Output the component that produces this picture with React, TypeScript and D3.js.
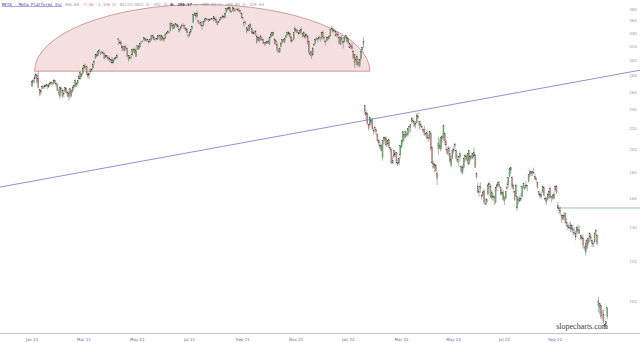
import React from 'react';
import * as d3 from 'd3';

const W = 640;
const H = 343;

// Daily candles [open, high, low, close], one small array per month
const jan2021 = [[267,275,266,273],[272,276,270,274],[276,281,271,278],[279,284,276,282],[280,283,270,272],[277,286,264,265],[263,264,255,258]];
const feb2021 = [[259,263,256,262],[264,269,263,267],[267,268,264,267],[268,269,264,266],[267,270,266,268],[269,269,263,267],[266,271,265,268],[269,273,267,271],[272,273,268,270],[270,272,268,271],[270,276,269,274],[272,275,270,274],[271,272,266,269],[269,270,261,262],[259,264,256,260],[255,267,252,266],[264,266,259,264],[262,264,253,255],[258,263,254,258]];
const mar2021 = [[261,266,259,265],[264,266,258,259],[259,261,254,255],[255,262,250,258],[258,265,252,264],[262,263,255,255],[261,268,259,266],[268,269,263,265],[267,276,266,274],[270,272,266,268],[270,275,268,274],[276,282,275,279],[276,286,275,284],[282,284,278,279],[283,292,282,290],[290,296,289,294],[292,296,288,291],[292,293,281,282],[282,285,277,279],[281,284,276,283],[285,290,283,288],[288,290,285,288],[290,298,289,295]];
const apr2021 = [[298,301,295,299],[303,310,302,309],[308,311,306,306],[307,314,306,313],[315,316,311,313],[312,313,308,312],[311,314,309,312],[311,313,308,310],[310,311,302,303],[305,308,304,308],[307,307,303,306],[305,307,300,302],[302,306,298,303],[301,302,297,302],[301,305,295,297],[297,303,296,301],[302,305,300,303],[304,306,302,303],[304,310,303,307],[332,332,322,330],[326,330,324,325]];
const may2021 = [[326,329,322,323],[321,322,313,318],[320,321,314,315],[314,321,313,320],[319,323,318,319],[317,318,306,306],[302,308,299,307],[304,308,302,303],[305,308,302,305],[308,317,307,316],[314,317,311,316],[316,319,310,310],[306,314,305,314],[316,322,315,322],[321,322,316,316],[319,326,319,325],[327,328,324,328],[328,330,326,328],[331,334,329,333],[332,333,328,329]];
const jun2021 = [[330,332,327,329],[330,331,327,329],[328,329,324,326],[327,332,326,330],[330,337,329,337],[337,338,332,334],[334,336,330,330],[331,333,328,331],[332,333,330,331],[331,337,330,337],[337,338,334,337],[337,338,328,331],[330,337,329,337],[334,336,328,330],[330,333,327,332],[332,340,331,339],[339,342,338,341],[342,345,340,343],[342,343,339,341],[344,358,343,356],[356,356,350,352],[352,352,346,348]];
const jul2021 = [[348,355,347,354],[354,356,351,355],[354,355,349,353],[352,353,347,350],[343,348,341,346],[346,351,345,350],[351,355,349,353],[353,356,351,352],[353,354,346,348],[348,350,343,345],[346,348,339,341],[337,339,333,337],[337,343,335,342],[342,347,340,346],[347,352,346,351],[357,371,356,370],[369,374,368,373],[372,372,362,368],[367,377,365,373],[361,362,355,358],[355,359,354,356]];
const aug2021 = [[358,360,351,352],[353,353,346,351],[352,360,351,359],[359,364,357,363],[362,365,361,364],[363,364,360,362],[362,363,358,361],[361,364,360,363],[362,364,361,363],[364,365,362,363],[363,368,359,367],[364,366,360,362],[362,365,357,357],[354,360,353,358],[359,361,356,359],[361,365,360,363],[364,367,362,366],[366,370,365,368],[367,369,364,364],[366,373,365,373],[374,382,373,381],[381,383,377,379]];
const sep2021 = [[380,384,378,382],[382,382,374,375],[375,377,373,376],[377,384,376,382],[381,383,375,378],[378,380,375,378],[380,382,378,379],[380,381,375,377],[378,382,375,377],[377,378,371,374],[372,373,364,365],[365,366,362,365],[357,361,350,356],[358,360,354,358],[349,350,340,343],[345,349,343,346],[344,355,343,353],[349,356,348,354],[347,348,339,341],[342,344,338,340],[341,345,338,339]];
const oct2021 = [[341,345,336,343],[335,339,324,326],[329,336,328,333],[329,334,326,334],[336,338,329,329],[331,334,329,330],[330,332,325,325],[326,327,321,324],[326,327,322,324],[327,328,324,325],[328,330,324,325],[323,335,323,334],[334,340,333,339],[341,342,335,337],[337,342,335,342],[331,333,323,325],[326,330,322,329],[323,327,313,316],[315,318,312,312],[312,319,311,317],[320,327,319,324]];
const nov2021 = [[326,331,324,330],[330,331,326,328],[328,332,325,332],[333,338,332,336],[337,343,336,341],[342,343,336,339],[340,341,333,335],[334,336,326,328],[329,331,327,328],[330,341,329,341],[343,351,343,348],[346,347,341,343],[344,346,340,341],[341,342,337,339],[340,347,339,345],[346,350,340,341],[340,341,333,337],[336,343,334,341],[335,337,331,333],[336,340,333,338],[336,337,323,324]];
const dec2021 = [[328,330,310,311],[310,314,306,310],[313,314,302,307],[308,319,306,318],[322,324,320,323],[324,333,323,331],[331,335,329,330],[332,333,326,330],[332,337,330,334],[333,335,327,334],[333,342,330,342],[342,345,331,335],[332,336,328,334],[328,330,322,326],[329,335,327,334],[334,334,329,330],[332,337,331,335],[336,347,335,346],[347,352,345,346],[346,349,341,343],[344,348,342,344],[343,345,336,336]];
const jan2022 = [[338,341,334,339],[339,343,332,337],[333,336,324,324],[323,335,322,333],[332,337,329,332],[325,329,317,328],[327,336,326,334],[337,338,331,333],[334,337,326,327],[325,333,325,332],[325,326,318,318],[321,324,317,320],[321,326,315,317],[313,315,303,303],[298,309,290,309],[302,305,294,300],[306,307,292,295],[298,303,292,295],[294,302,291,302],[303,314,300,313]];
const feb2022 = [[315,320,311,319],[328,334,318,323],[244,245,235,238],[234,239,229,237],[236,237,224,225],[224,225,218,220],[224,232,222,232],[226,231,223,228],[228,231,218,220],[218,221,214,218],[221,223,216,221],[219,220,213,217],[214,215,207,208],[208,210,204,206],[204,207,200,202],[204,205,198,199],[193,208,190,208],[209,212,205,211],[208,212,205,211]];
const mar2022 = [[210,212,202,204],[205,209,203,208],[209,209,201,203],[202,202,197,200],[200,201,187,188],[188,194,187,190],[194,199,192,199],[196,198,193,195],[197,197,187,188],[188,191,185,187],[188,193,186,192],[195,204,192,204],[202,208,201,208],[207,217,206,217],[214,214,208,212],[211,218,211,217],[214,217,212,214],[214,220,212,220],[221,222,216,222],[221,224,216,224],[227,232,225,230],[228,231,225,228],[227,228,222,222]];
const apr2022 = [[224,228,220,225],[226,236,225,234],[233,237,230,231],[227,228,219,223],[224,228,220,223],[221,224,220,222],[219,220,216,217],[219,223,213,214],[214,216,212,215],[216,218,210,210],[210,214,207,211],[210,218,209,217],[215,217,199,200],[202,203,187,188],[188,190,183,184],[184,188,180,187],[186,187,181,181],[179,181,170,175],[201,212,195,206],[204,210,200,201]];
const may2022 = [[200,212,198,211],[210,214,206,212],[211,224,208,223],[215,216,204,208],[207,209,198,204],[200,202,195,196],[201,203,194,198],[196,203,188,189],[186,194,184,191],[192,201,191,199],[198,203,196,200],[205,206,200,203],[199,200,191,192],[189,195,188,191],[193,194,185,194],[193,198,189,196],[185,186,179,181],[180,186,178,184],[184,193,183,192],[193,195,189,195],[191,196,190,194]];
const jun2022 = [[196,197,187,189],[187,199,186,199],[194,195,189,191],[193,197,191,194],[192,197,191,196],[194,202,194,197],[195,196,184,184],[179,180,175,176],[169,172,164,164],[165,167,161,164],[167,172,164,169],[162,163,159,161],[162,166,161,164],[165,167,156,157],[156,160,155,156],[157,160,155,159],[163,171,162,170],[171,173,167,170],[169,171,160,161],[160,166,159,164],[161,164,158,161]];
const jul2022 = [[161,162,155,160],[157,168,156,168],[168,171,165,170],[170,173,169,172],[169,173,168,170],[168,169,162,163],[164,167,162,163],[159,166,159,164],[161,161,155,158],[160,165,159,165],[168,172,166,167],[170,176,168,176],[177,184,176,183],[182,185,179,184],[176,177,167,169],[170,171,164,167],[165,165,158,159],[162,171,161,170],[153,162,151,161],[159,161,156,159]];
const aug2022 = [[158,162,157,160],[159,164,158,160],[161,169,161,169],[169,172,167,171],[168,170,166,167],[169,173,167,170],[170,170,165,169],[173,178,172,178],[180,182,176,178],[179,181,177,181],[179,181,177,181],[180,184,179,180],[177,179,174,175],[174,176,172,175],[172,172,167,168],[165,165,162,163],[163,164,160,161],[161,165,160,163],[165,169,164,169],[168,169,162,162],[160,162,158,159],[160,161,155,157],[159,164,158,163]];
const sep2022 = [[162,166,160,165],[167,169,160,160],[161,162,157,161],[160,163,159,162],[160,165,159,163],[166,170,165,169],[169,170,163,164],[155,157,152,153],[153,154,149,152],[151,154,148,150],[148,148,143,146],[145,149,145,148],[147,150,145,148],[149,150,142,143],[143,146,140,142],[141,142,138,140],[140,143,139,140],[141,144,137,139],[139,142,137,141],[139,140,135,138],[137,140,135,136]];
const oct2022 = [[136,138,132,134],[137,141,136,140],[138,142,136,139],[138,141,136,136],[135,135,132,133],[133,136,132,134],[133,135,127,129],[128,129,126,128],[125,132,123,130],[132,133,127,127],[130,134,129,133],[136,137,131,134],[134,136,131,133],[132,133,128,130],[130,131,128,130],[131,137,130,136],[137,139,135,138],[135,136,129,130],[100,102,95,98],[97,99,94,99],[98,98,92,93]];
const nov2022 = [[95,96,92,95],[94,96,90,91],[90,90,88,89],[90,91,88,91],[93,97,92,97]];

const months = [jan2021, feb2021, mar2021, apr2021, may2021, jun2021, jul2021, aug2021, sep2021, oct2021, nov2021, dec2021,
  jan2022, feb2022, mar2022, apr2022, may2022, jun2022, jul2022, aug2022, sep2022, oct2022, nov2022];

// Right price axis
const priceTicks = [100, 120, 140, 160, 180, 200, 220, 240, 260, 280, 300, 320, 340, 360, 380];

// Bottom date axis (bar index of each label)
const dateTickBars = [0, 41, 83, 124, 166, 208, 249, 291, 332, 372, 412];
const dateTickLabels = ['Jan 21', 'Mar 21', 'May 21', 'Jul 21', 'Sep 21', 'Nov 21', 'Jan 22', 'Mar 22', 'May 22', 'Jul 22', 'Sep 22'];

// Drawn objects
const roundTop = { startBar: 2, endBar: 266, basePrice: 286, topPrice: 388 };
const trendLine = [{ bar: 0, price: 172.9 }, { bar: 453, price: 279.5 }];
const supportLine = { startBar: 414, price: 153 };

const headerParts = [
  { text: 'META - Meta Platforms Inc', color: '#3b3ba6', deco: 'underline' },
  { text: ' 456.60', color: '#9a9a9a' },
  { text: ' -7.46 -1.13%', color: '#e07a7a' },
  { text: ' D: 03/23/2021 O: 292.35', color: '#9a9a9a' },
  { text: ' H: 296.17', color: '#444', bold: true },
  { text: ' L: 288.03 C: 288.85 V: 376.63', color: '#9a9a9a' },
];

export default function App() {
  const candles = months.flat();
  const n = candles.length;
  const x = d3.scaleLinear().domain([0, n - 1]).range([32, 32 + (n - 1) * 1.27]);
  const y = d3.scaleLog().domain([100, 380]).range([301, 9]);

  const tx0 = x(trendLine[0].bar), ty0 = y(trendLine[0].price);
  const tx1 = x(trendLine[1].bar), ty1 = y(trendLine[1].price);
  const slope = (ty1 - ty0) / (tx1 - tx0);
  const tl = { x1: 0, y1: ty0 + slope * (0 - tx0), x2: W, y2: ty0 + slope * (W - tx0) };

  const rx0 = x(roundTop.startBar), rx1 = x(roundTop.endBar);
  const rBase = y(roundTop.basePrice), rTop = y(roundTop.topPrice);
  const rrx = (rx1 - rx0) / 2, rry = rBase - rTop;
  const roundPath = `M${rx0},${rBase} A${rrx},${rry} 0 0 1 ${rx1},${rBase} Z`;

  const bw = 1.1;

  return (
    <svg width={W} height={H} style={{ position: 'absolute', left: 0, top: 0, background: '#fff' }}>
      <rect width={W} height={H} fill="#fff" />
      <path d={roundPath} fill="#f4e0e0" stroke="#c98585" strokeWidth={0.8} />
      <line {...tl} stroke="#7474d4" strokeWidth={0.8} />
      <line x1={x(supportLine.startBar)} x2={W} y1={y(supportLine.price)} y2={y(supportLine.price)} stroke="#8cc98c" strokeWidth={0.9} />
      {candles.map(([o, h, l, c], i) => {
        const cx = x(i);
        const up = c >= o;
        const top = y(Math.max(o, c));
        const bot = y(Math.min(o, c));
        return (
          <g key={i}>
            <line x1={cx} x2={cx} y1={y(h)} y2={y(l)} stroke="#5a5a5a" strokeWidth={0.45} />
            <rect x={cx - bw / 2} y={top} width={bw} height={Math.max(0.6, bot - top)}
              fill={up ? '#62bd62' : '#e08888'} stroke="#4a4a4a" strokeWidth={0.2} />
          </g>
        );
      })}
      {priceTicks.map((v) => (
        <text key={v} x={633} y={y(v) + 1.5} fontSize={4} fill="#a0a0a0" textAnchor="middle" fontFamily="DejaVu Sans">{v}</text>
      ))}
      <line x1={0} x2={W} y1={333.5} y2={333.5} stroke="#c4c4c4" strokeWidth={1.2} />
      {dateTickBars.map((b, i) => (
        <text key={b} x={x(b)} y={340.5} fontSize={4} fill="#6b6ba8" textAnchor="middle" fontFamily="DejaVu Sans">{dateTickLabels[i]}</text>
      ))}
      <text x={2} y={5.5} fontSize={4.2} fontFamily="DejaVu Sans Mono" textLength={262} lengthAdjust="spacing">
        {headerParts.map((p, i) => (
          <tspan key={i} fill={p.color} textDecoration={p.deco} fontWeight={p.bold ? 'bold' : 'normal'}>{p.text}</tspan>
        ))}
      </text>
      <text x={608} y={329} fontSize={8} fill="#3a3a3a" textAnchor="end" fontFamily="Liberation Serif">slopecharts.com</text>
    </svg>
  );
}
